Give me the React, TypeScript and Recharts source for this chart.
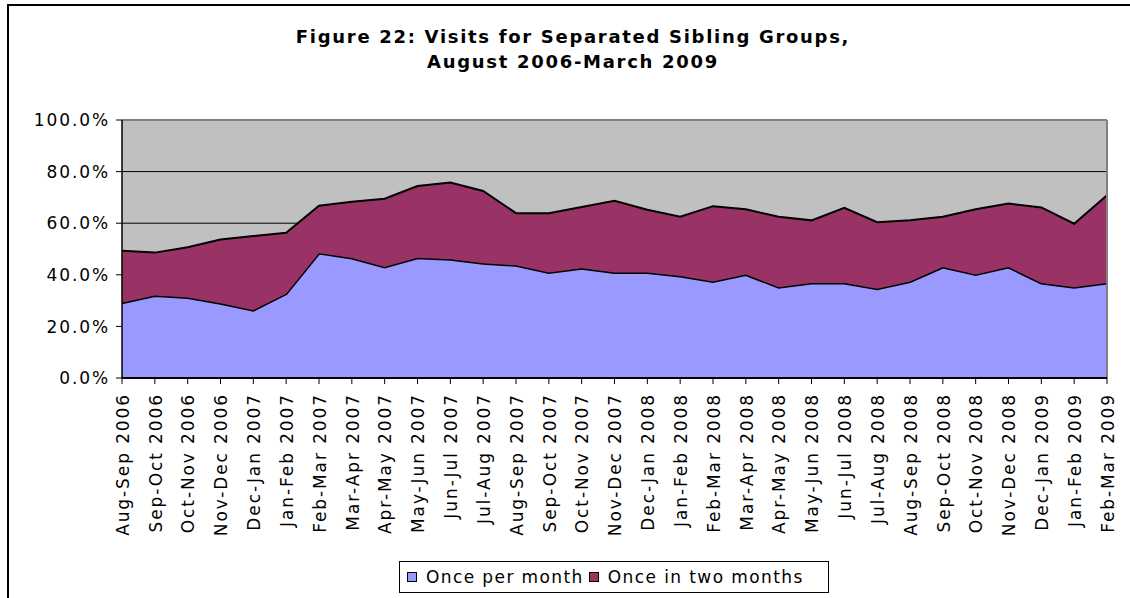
import React from 'react';
import {
  AreaChart,
  Area,
  XAxis,
  YAxis,
  CartesianGrid,
  Legend,
  ReferenceLine,
} from 'recharts';

const periods = [
  'Aug-Sep 2006', 'Sep-Oct 2006', 'Oct-Nov 2006', 'Nov-Dec 2006',
  'Dec-Jan 2007', 'Jan-Feb 2007', 'Feb-Mar 2007', 'Mar-Apr 2007',
  'Apr-May 2007', 'May-Jun 2007', 'Jun-Jul 2007', 'Jul-Aug 2007',
  'Aug-Sep 2007', 'Sep-Oct 2007', 'Oct-Nov 2007', 'Nov-Dec 2007',
  'Dec-Jan 2008', 'Jan-Feb 2008', 'Feb-Mar 2008', 'Mar-Apr 2008',
  'Apr-May 2008', 'May-Jun 2008', 'Jun-Jul 2008', 'Jul-Aug 2008',
  'Aug-Sep 2008', 'Sep-Oct 2008', 'Oct-Nov 2008', 'Nov-Dec 2008',
  'Dec-Jan 2009', 'Jan-Feb 2009', 'Feb-Mar 2009',
];

const oncePerMonth = [
  29.2, 32.0, 31.2, 29.0, 26.3, 32.7, 48.4, 46.5, 43.0, 46.6, 46.0, 44.5,
  43.7, 40.9, 42.5, 40.9, 40.9, 39.5, 37.4, 40.1, 35.2, 36.8, 36.8, 34.6,
  37.4, 43.0, 40.1, 43.0, 36.8, 35.2, 36.8,
];

const onceInTwoMonths = [
  20.1, 16.6, 19.5, 24.7, 28.7, 23.6, 18.4, 21.8, 26.5, 27.8, 29.8, 28.0,
  20.2, 23.0, 23.8, 27.8, 24.3, 23.0, 29.2, 25.3, 27.3, 24.3, 29.2, 25.8,
  23.7, 19.5, 25.3, 24.6, 29.3, 24.6, 34.0,
];

const yTicks = [0, 20, 40, 60, 80, 100];
const gridValues = [20, 40, 60, 80];

const titleLines = [
  'Figure 22: Visits for Separated Sibling Groups,',
  'August 2006-March 2009',
];

const seriesNames = ['Once per month', 'Once in two months'];
const seriesColors = ['#9999FF', '#993366'];

const data = periods.map((p, i) => ({
  period: p,
  perMonth: oncePerMonth[i],
  twoMonths: onceInTwoMonths[i],
}));

const FONT = '"DejaVu Sans", Verdana, sans-serif';
const LS = '1.9px';

const XTick = (props: any) => {
  const { x, y, payload } = props;
  return (
    <text
      x={x}
      y={y}
      transform={`rotate(-90, ${x}, ${y})`}
      textAnchor="end"
      dy="0.4em"
      fontFamily={FONT}
      fontSize={17}
      fill="#000"
      style={{ letterSpacing: LS }}
    >
      {payload.value}
    </text>
  );
};

const YTick = (props: any) => {
  const { x, y, payload } = props;
  return (
    <text
      x={x}
      y={y}
      textAnchor="end"
      dy="0.36em"
      fontFamily={FONT}
      fontSize={17}
      fill="#000"
      style={{ letterSpacing: LS }}
    >
      {`${Number(payload.value).toFixed(1)}%`}
    </text>
  );
};

const LegendBox = (props: any) => {
  const payload = [...(props.payload || [])].sort(
    (a: any, b: any) => seriesNames.indexOf(a.value) - seriesNames.indexOf(b.value)
  );
  return (
    <div
      style={{
        boxSizing: 'border-box',
        width: '100%',
        height: '100%',
        border: '1px solid #000',
        background: '#fff',
        display: 'flex',
        alignItems: 'center',
        paddingLeft: 7,
        fontFamily: FONT,
        fontSize: 17,
        letterSpacing: '1.4px',
        color: '#000',
        whiteSpace: 'nowrap',
      }}
    >
      {payload.map((item: any, i: number) => (
        <div key={i} style={{ display: 'flex', alignItems: 'center', marginRight: 5 }}>
          <span
            style={{
              display: 'inline-block',
              width: 8,
              height: 8,
              border: '1px solid #000',
              background: seriesColors[seriesNames.indexOf(item.value)],
              marginRight: 9,
            }}
          />
          <span>{item.value}</span>
        </div>
      ))}
    </div>
  );
};

export default function App() {
  return (
    <div
      style={{
        position: 'absolute',
        left: 0,
        top: 0,
        width: 1130,
        height: 598,
        background: '#fff',
        overflow: 'hidden',
      }}
    >
      <div
        style={{
          position: 'absolute',
          left: 7,
          top: 4,
          width: 1200,
          height: 700,
          borderTop: '2px solid #000',
          borderLeft: '2px solid #000',
        }}
      />
      <div
        style={{
          position: 'absolute',
          left: 0,
          top: 24,
          width: 1146,
          textAlign: 'center',
          fontFamily: FONT,
          fontWeight: 'bold',
          fontSize: 18,
          lineHeight: '25px',
          letterSpacing: '1.7px',
          color: '#000',
        }}
      >
        {titleLines.map((t, i) => (
          <div key={i}>{t}</div>
        ))}
      </div>
      <div style={{ position: 'absolute', left: 0, top: 0 }}>
        <AreaChart
          width={1130}
          height={598}
          data={data}
          margin={{ top: 120, right: 23, left: 0, bottom: 60 }}
        >
          <CartesianGrid
            fill="#C0C0C0"
            stroke="#000"
            vertical={false}
            horizontalValues={gridValues}
          />
          <XAxis
            dataKey="period"
            interval={0}
            height={160}
            tickSize={6}
            tickMargin={9}
            tick={<XTick />}
            axisLine={{ stroke: '#000', strokeWidth: 2 }}
            tickLine={{ stroke: '#000' }}
          />
          <YAxis
            width={122}
            domain={[0, 100]}
            ticks={yTicks}
            tickSize={6}
            tickMargin={6}
            tick={<YTick />}
            axisLine={{ stroke: '#000', strokeWidth: 1.5 }}
            tickLine={{ stroke: '#000' }}
          />
          <Area
            type="linear"
            dataKey="perMonth"
            name={seriesNames[0]}
            stackId="1"
            stroke="#000"
            strokeWidth={3}
            fill={seriesColors[0]}
            fillOpacity={1}
            isAnimationActive={false}
          />
          <Area
            type="linear"
            dataKey="twoMonths"
            name={seriesNames[1]}
            stackId="1"
            stroke="#000"
            strokeWidth={2}
            fill={seriesColors[1]}
            fillOpacity={1}
            isAnimationActive={false}
          />
          <ReferenceLine y={100} stroke="#808080" strokeWidth={2} />
          <ReferenceLine x={periods[periods.length - 1]} stroke="#808080" strokeWidth={2} />
          <Legend
            verticalAlign="middle"
            align="center"
            layout="horizontal"
            content={<LegendBox />}
            wrapperStyle={{ left: 399, top: 561, width: 430, height: 32, bottom: 'auto', right: 'auto' }}
          />
        </AreaChart>
      </div>
    </div>
  );
}
